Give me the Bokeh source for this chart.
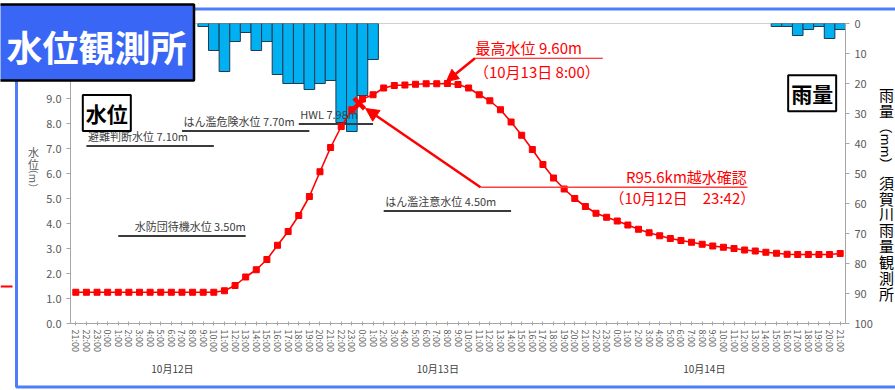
import math
from bokeh.plotting import figure
from bokeh.layouts import column
from bokeh.models import (Range1d, LinearAxis, FixedTicker, NumeralTickFormatter, Label,
                          Arrow, NormalHead)
from bokeh.core.properties import value
from bokeh.embed import file_html
from bokeh.resources import INLINE

# ---------------- data ----------------
hours = list(range(73))  # 10/11 21:00 ... 10/14 21:00, hourly
time_labels = [f"{(21 + i) % 24}:00" for i in hours]

water_level = [1.25, 1.25, 1.25, 1.25, 1.25, 1.25, 1.25, 1.25, 1.25, 1.25, 1.25, 1.25, 1.25, 1.25,
               1.31, 1.52, 1.86, 2.15, 2.56, 3.13, 3.68, 4.32, 5.08, 6.07, 7.04, 7.88, 8.55, 8.98,
               9.15, 9.42, 9.52, 9.54, 9.57, 9.59, 9.59, 9.60, 9.56, 9.42, 9.15, 8.91, 8.55, 8.06,
               7.53, 6.96, 6.36, 5.82, 5.38, 5.00, 4.68, 4.41, 4.25, 4.10, 3.94, 3.77, 3.63, 3.51,
               3.40, 3.32, 3.25, 3.17, 3.10, 3.05, 3.00, 2.94, 2.90, 2.85, 2.81, 2.77, 2.76, 2.76,
               2.76, 2.76, 2.80]

rainfall = [0, 0, 0, 0, 0, 0, 0, 0, 0, 0, 0, 0,
            1, 9, 16, 6, 3, 9, 6, 17, 20, 20, 22, 20, 19, 33, 36, 24, 12,
            0, 0, 0, 0, 0, 0, 0, 0, 0, 0, 0, 0, 0, 0, 0, 0, 0, 0, 0, 0, 0, 0, 0, 0, 0, 0, 0, 0, 0,
            0, 0, 0, 0, 0, 0, 0, 0,
            1, 1, 4, 2, 1, 5, 2]

date_labels = ["10月12日", "10月13日", "10月14日"]
date_label_x = [9.1, 34.1, 59.2]

thresh_names = ["避難判断水位 7.10m", "はん濫危険水位 7.70m", "HWL 7.98m",
                "水防団待機水位 3.50m", "はん濫注意水位 4.50m"]
thresh_values = [7.10, 7.70, 7.98, 3.50, 4.50]
thresh_x0 = [1.0, 10.0, 21.0, 4.0, 29.0]
thresh_x1 = [13.0, 22.0, 28.0, 16.0, 41.0]

peak_index = [35]             # 10/13 8:00
overflow_point = [26.7, 8.8]  # 10/12 23:42

title_text = "水位観測所"
left_title = ["水", "位"]
right_title_top = ["雨", "量"]
right_title_bottom = list("須賀川雨量観測所")

FONT = "Noto Sans CJK JP"
GRAY = "#595959"
RED = "#FF0000"
BLUE_FRAME = "#4d7ef7"

# ---------------- main figure ----------------
p = figure(width=895, height=390, output_backend="svg", toolbar_location=None, title=None,
           x_range=Range1d(-0.5, 72.5), y_range=Range1d(0, 12),
           min_border_left=70, min_border_right=50, min_border_top=23, min_border_bottom=67)
p.frame_align = False
p.background_fill_color = "white"
p.border_fill_color = "white"
p.outline_line_color = "#d0d0d0"
p.xgrid.visible = False
p.ygrid.visible = False

p.extra_y_ranges = {"rain": Range1d(100, 0)}
rain_axis = LinearAxis(y_range_name="rain")
p.add_layout(rain_axis, "right")

# time axis
p.xaxis.ticker = FixedTicker(ticks=hours)
p.xaxis.major_label_overrides = {h: t for h, t in zip(hours, time_labels)}
p.xaxis.major_label_orientation = -math.pi / 2
p.xaxis.major_label_text_font_size = "9px"
p.xaxis.major_tick_in = 2
p.xaxis.major_tick_out = 2
p.xaxis.major_label_standoff = 4

# date axis (second row below)
date_axis = LinearAxis(ticker=FixedTicker(ticks=date_label_x),
                       major_label_overrides={x: d for x, d in zip(date_label_x, date_labels)})
p.add_layout(date_axis, "below")
date_axis.axis_line_color = None
date_axis.major_tick_line_color = None
date_axis.minor_tick_line_color = None
date_axis.major_label_standoff = 0
date_axis.major_label_text_font_size = "10px"
date_axis.major_label_text_color = "#404040"
date_axis.major_label_text_font = FONT

p.yaxis[0].ticker = FixedTicker(ticks=[0, 1, 2, 3, 4, 5, 6, 7, 8, 9])
p.yaxis[0].formatter = NumeralTickFormatter(format="0.0")
rain_axis.ticker = FixedTicker(ticks=[0, 10, 20, 30, 40, 50, 60, 70, 80, 90, 100])

for ax in [p.xaxis[0], p.yaxis[0], rain_axis]:
    ax.axis_line_color = "#a6a6a6"
    ax.major_tick_line_color = "#a6a6a6"
    ax.minor_tick_line_color = None
    ax.major_label_text_color = GRAY
    ax.major_label_text_font = FONT
for ax in [p.yaxis[0], rain_axis]:
    ax.major_tick_in = 0
    ax.major_tick_out = 4
    ax.major_label_text_font_size = "11px"
    ax.major_label_standoff = 5

# rain bars (hanging from top)
rain_x = [h for h, r in zip(hours, rainfall) if r > 0]
rain_v = [r for r in rainfall if r > 0]
p.vbar(x=rain_x, width=1.0, top=0, bottom=rain_v, y_range_name="rain",
       fill_color="#00B0F0", line_color="#1f3a52", line_width=1)

# threshold lines and labels
p.segment(x0=thresh_x0, y0=thresh_values, x1=thresh_x1, y1=thresh_values,
          line_color="#3a3a3a", line_width=1.8)
for name, val, x0, x1 in zip(thresh_names, thresh_values, thresh_x0, thresh_x1):
    right_aligned = name.startswith("水防団")
    p.add_layout(Label(x=x1 if right_aligned else x0 + 0.15, y=val, text=name, y_offset=2,
                       text_align="right" if right_aligned else "left", text_baseline="bottom",
                       text_font=FONT, text_font_size="11px", text_color="#404040"))

# water level
p.line(hours, water_level, line_color=RED, line_width=1.6)
p.scatter(hours, water_level, marker="square", size=6, color=RED)

# overflow marker
p.scatter(x=[overflow_point[0]], y=[overflow_point[1]], marker="x", size=15,
          line_color=RED, line_width=4.5)

# annotations: peak
pk = peak_index[0]
p.segment(x0=[37.6], y0=[10.61], x1=[49.64], y1=[10.61], line_color=RED, line_width=1)
p.add_layout(Arrow(end=NormalHead(size=12, fill_color=RED, line_color=RED),
                   x_start=37.6, y_start=10.61, x_end=pk - 0.1, y_end=water_level[pk] + 0.08,
                   line_color=RED, line_width=2.5))
p.add_layout(Label(x=37.65, y=10.61, y_offset=0, text=f"最高水位 {water_level[pk]:.2f}m",
                   text_align="left", text_baseline="bottom", text_font=FONT,
                   text_font_size="15px", text_color=RED))
p.add_layout(Label(x=37.5, y=10.1, text="（10月13日 8:00）",
                   text_align="left", text_baseline="middle", text_font=FONT,
                   text_font_size="15px", text_color=RED))

# annotations: overflow
p.segment(x0=[38.12], y0=[5.45], x1=[63.27], y1=[5.45], line_color="#FF4040", line_width=1.5)
p.add_layout(Arrow(end=NormalHead(size=13, fill_color=RED, line_color=RED),
                   x_start=38.12, y_start=5.45, x_end=overflow_point[0] + 0.6,
                   y_end=overflow_point[1] - 0.2, line_color=RED, line_width=2.5))
p.add_layout(Label(x=63.2, y=5.45, y_offset=0, text="R95.6km越水確認",
                   text_align="right", text_baseline="bottom", text_font=FONT,
                   text_font_size="15px", text_color=RED))
p.add_layout(Label(x=64.0, y=5.06, text="（10月12日　23:42）",
                   text_align="right", text_baseline="middle", text_font=FONT,
                   text_font_size="15px", text_color=RED))

# boxed labels
p.add_layout(Label(x=2.92, y=8.42, text="水位", text_align="center", text_baseline="middle",
                   text_font=FONT, text_font_size="21px", text_font_style="bold", text_color="black",
                   background_fill_color="white", border_line_color="black", border_line_width=2,
                   padding=3))
p.add_layout(Label(x=69.36, y=9.21, text="雨量", text_align="center", text_baseline="middle",
                   text_font=FONT, text_font_size="21px", text_font_style="bold", text_color="black",
                   background_fill_color="white", border_line_color="black", border_line_width=2,
                   padding=3))

# ---------------- transparent overlay (page decorations, page pixel coordinates) ----------------
ov = figure(width=895, height=390, output_backend="svg", toolbar_location=None, title=None,
            x_range=Range1d(0, 895), y_range=Range1d(390, 0),
            x_axis_type=None, y_axis_type=None, min_border=0)
ov.frame_align = False
ov.min_border_left = 0
ov.min_border_right = 0
ov.min_border_top = 0
ov.min_border_bottom = 0
ov.background_fill_alpha = 0
ov.border_fill_alpha = 0
ov.outline_line_color = None
ov.grid.visible = False
ov.styles = {"position": "absolute", "left": "0px", "top": "0px", "z-index": "10"}

# outer blue frame
ov.multi_line(xs=[[16, 16, 900], [193, 900]], ys=[[80, 386.5, 386.5], [8.5, 8.5]],
              line_color=BLUE_FRAME, line_width=3)
# stray red mark at left edge
ov.segment(x0=[0], y0=[286], x1=[12], y1=[286], line_color=RED, line_width=2)

# title box
ov.quad(left=[-3], right=[193.5], top=[4], bottom=[80], fill_color="#3a66f5",
        line_color="black", line_width=2.5)
ov.text(x=[96], y=[45], text=[title_text], text_font=value(FONT), text_font_size="36px",
        text_font_style="bold", text_color="white", text_align="center", text_baseline="middle")

# left axis title (vertical)
ov.text(x=[33, 33], y=[151, 163], text=left_title, text_font=value(FONT),
        text_font_size="11px", text_color=GRAY, text_align="center", text_baseline="middle")
ov.text(x=[33], y=[178], text=["（m）"], angle=-math.pi / 2, text_font=value(FONT),
        text_font_size="10px", text_color=GRAY, text_align="center", text_baseline="middle")

# right axis title (vertical)
ov.text(x=[886, 886], y=[94, 109.5], text=right_title_top, text_font=value(FONT),
        text_font_size="15px", text_color="black", text_align="center", text_baseline="middle")
ov.text(x=[886], y=[145], text=["（mm）"], angle=-math.pi / 2, text_font=value(FONT),
        text_font_size="13px", text_color="black", text_align="center", text_baseline="middle")
ov.text(x=[886] * len(right_title_bottom),
        y=[181.7 + i * 15.86 for i in range(len(right_title_bottom))],
        text=right_title_bottom, text_font=value(FONT), text_font_size="15px",
        text_color="black", text_align="center", text_baseline="middle")

layout = column(p, ov)
open("out.html", "w").write(file_html(layout, INLINE))
